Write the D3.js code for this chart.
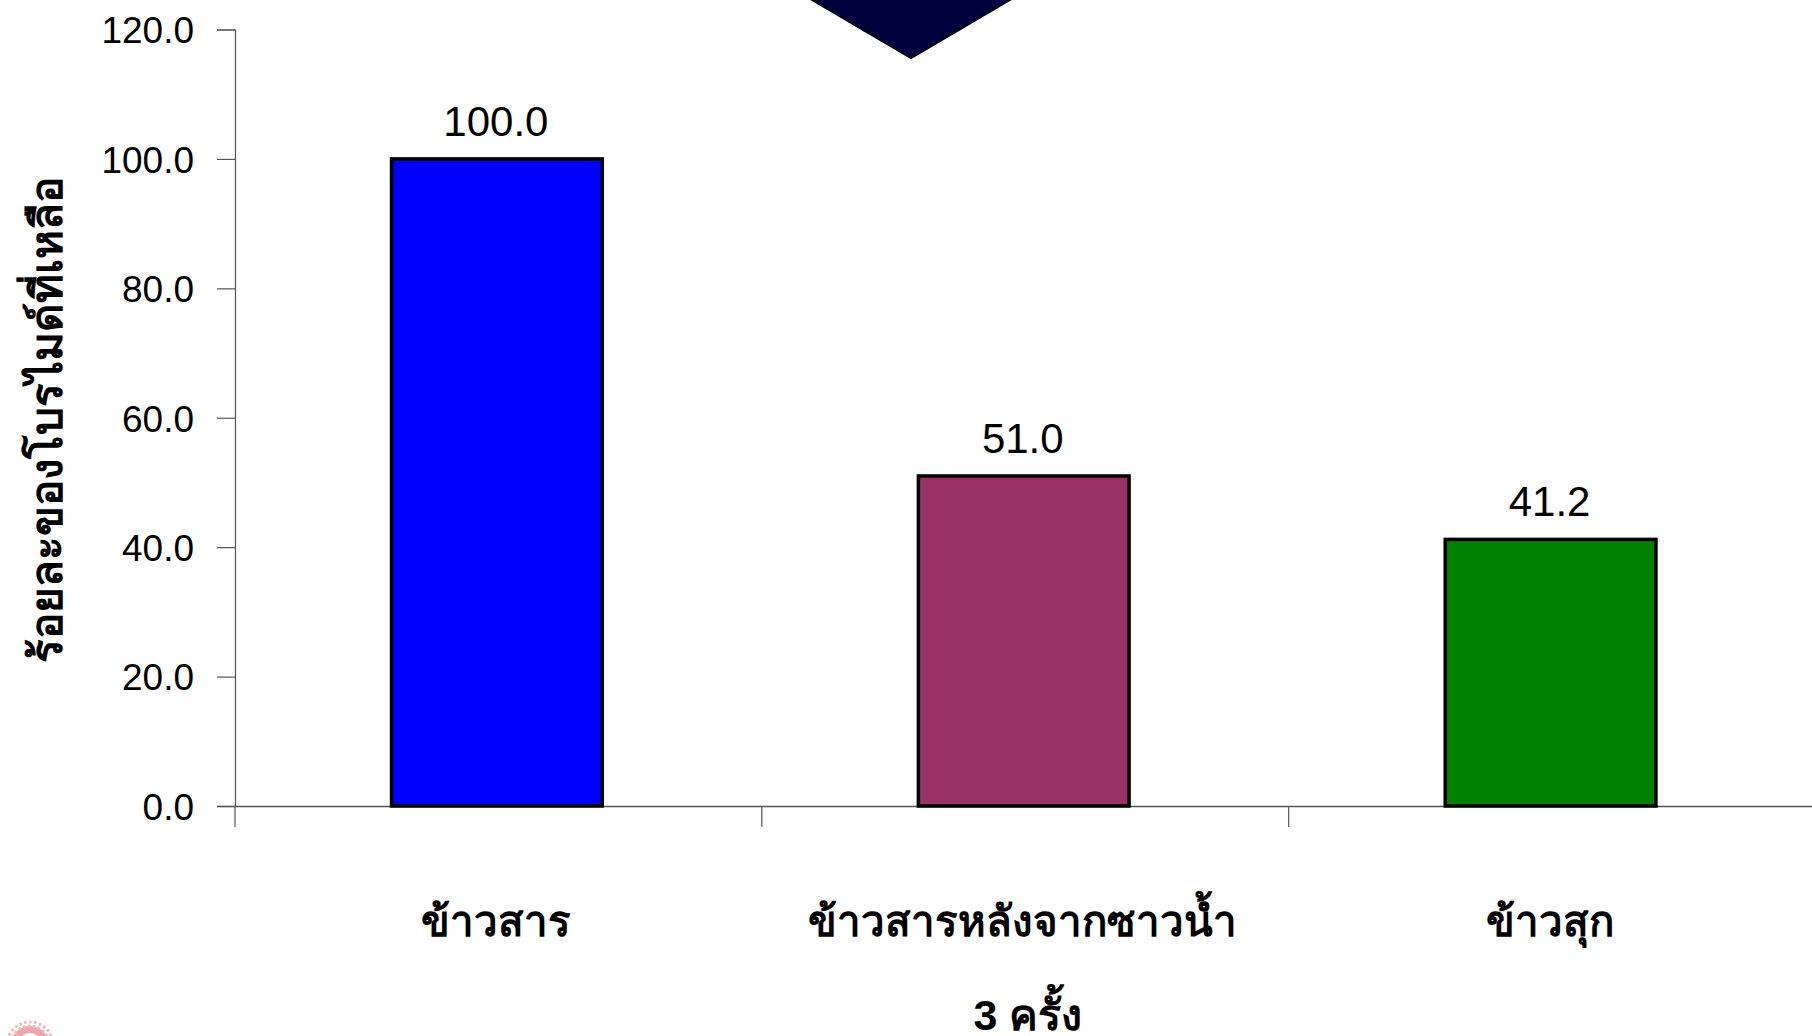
<!DOCTYPE html>
<html><head><meta charset="utf-8">
<script src="https://cdn.jsdelivr.net/npm/d3@7/dist/d3.min.js"></script>
<style>html,body{margin:0;padding:0;background:#fff;overflow:hidden}svg{display:block}</style>
</head><body><svg id="c" width="1812" height="1036"></svg>
<script>
const categories = ["ข้าวสาร", "ข้าวสารหลังจากซาวน้ำ", "ข้าวสุก"];
const values = [100.0, 51.0, 41.2];
const barColors = ["#0000FF", "#993366", "#008000"];
const yTicks = [0, 20, 40, 60, 80, 100, 120];
const yTitle = "ร้อยละของโบรไมด์ที่เหลือ";
const xNote = "3 ครั้ง";

const svg = d3.select("#c");
const latin = "'Liberation Sans', Arial, sans-serif";
const thai = "'Liberation Sans', 'Noto Sans', 'DejaVu Sans', sans-serif";
const axisColor = "#555";

const y = d3.scaleLinear().domain([0, 120]).range([806, 29.5]);
const x = d3.scaleBand().domain(categories).range([233.5, 1814]).paddingInner(0.6).paddingOuter(0.3);

// decorative callout tip
svg.append("path").attr("d", "M810,-1 L911,58.5 L1012,-1 Z").attr("fill", "#00003c").attr("stroke", "#000").attr("stroke-width", 1.5);

// seal at the lower left, cut by the page edge
const sealArc = d3.arc().innerRadius(12).outerRadius(19).startAngle(-Math.PI / 2).endAngle(Math.PI / 2);
svg.append("path").attr("d", sealArc()).attr("transform", "translate(30,1045)").attr("fill", "#eda6ae");
svg.append("path").attr("d", d3.arc().innerRadius(19).outerRadius(23).startAngle(-Math.PI / 2).endAngle(Math.PI / 2)())
  .attr("transform", "translate(30,1045)").attr("fill", "none").attr("stroke", "#f0b8bf").attr("stroke-width", 3).attr("stroke-dasharray", "2.5 2.5");

const yAxis = svg.append("g").attr("transform", "translate(235,0)")
  .call(d3.axisLeft(y).tickValues(yTicks).tickFormat(d3.format(".1f")).tickSize(18).tickPadding(23));
yAxis.selectAll("path,line").attr("stroke", axisColor).attr("stroke-width", 1.2);
yAxis.selectAll("text").attr("font-family", latin).attr("font-size", 37).attr("fill", "#000").attr("y", 1.5);

const step = x.step();
const xAxis = svg.append("g").attr("transform", `translate(0,${y(0)})`);
xAxis.selectAll("line.t").data(d3.range(3)).join("line").attr("class", "t")
  .attr("x1", i => 235 + i * step).attr("x2", i => 235 + i * step)
  .attr("y1", 0).attr("y2", 21).attr("stroke", axisColor).attr("stroke-width", 1.2);

svg.selectAll("rect.bar").data(values).join("rect").attr("class", "bar")
  .attr("x", (d, i) => x(categories[i])).attr("width", x.bandwidth())
  .attr("y", d => y(d)).attr("height", d => y(0) - y(d))
  .attr("fill", (d, i) => barColors[i]).attr("stroke", "#000").attr("stroke-width", 3.5);

xAxis.append("line").attr("x1", 217).attr("x2", 1812).attr("y1", 0.5).attr("y2", 0.5).attr("stroke", axisColor).attr("stroke-width", 1.5);

svg.selectAll("text.val").data(values).join("text").attr("class", "val")
  .attr("x", (d, i) => x(categories[i]) + x.bandwidth() / 2 - 1)
  .attr("y", d => y(d) - 23).attr("text-anchor", "middle")
  .attr("font-family", latin).attr("font-size", 42).text(d => d.toFixed(1));

svg.selectAll("text.cat").data(categories).join("text").attr("class", "cat")
  .attr("x", d => x(d) + x.bandwidth() / 2 - 1).attr("y", 936).attr("text-anchor", "middle")
  .attr("font-family", thai).attr("font-weight", "bold").attr("font-size", 42).text(d => d);

svg.append("text").attr("x", 1028).attr("y", 1030).attr("text-anchor", "middle")
  .attr("font-family", thai).attr("font-weight", "bold").attr("font-size", 43).text(xNote);

svg.append("text").attr("transform", "translate(62,420) rotate(-90)").attr("text-anchor", "middle")
  .attr("font-family", thai).attr("font-weight", "bold").attr("font-size", 44).text(yTitle);
</script></body></html>
